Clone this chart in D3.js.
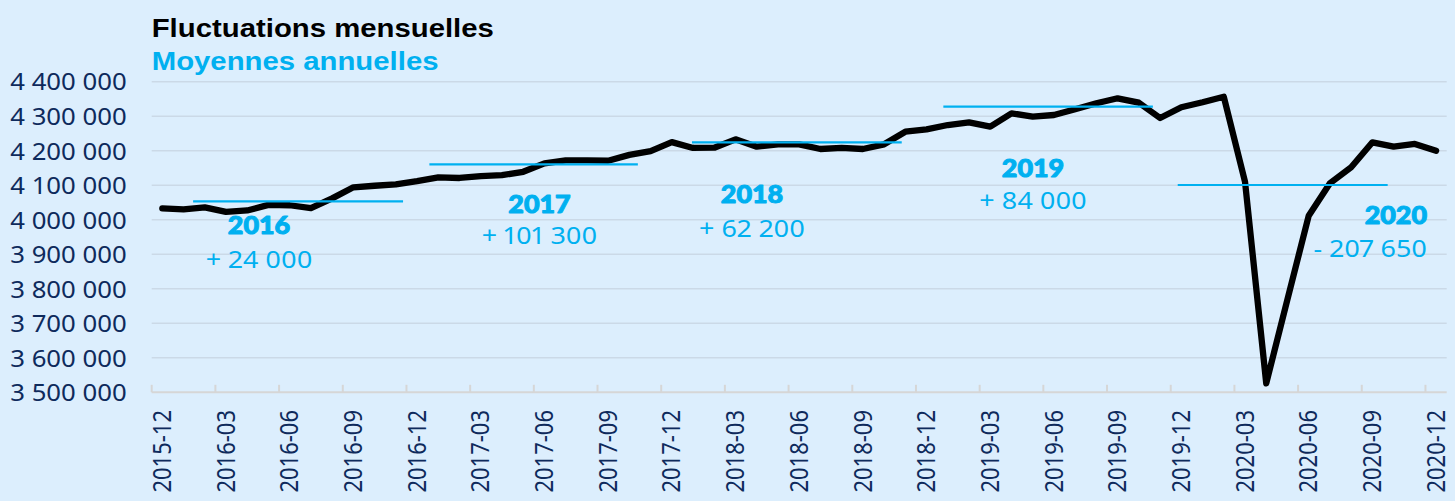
<!DOCTYPE html>
<html>
<head>
<meta charset="utf-8">
<script src="https://cdn.jsdelivr.net/npm/d3@7"></script>
<style>
  html, body { margin: 0; padding: 0; background: #dceefd; }
  svg { display: block; }
</style>
</head>
<body>
<svg id="chart" width="1455" height="501"></svg>
<script>
// ---------- DATA ----------
const months = [
  "2015-12",
  "2016-01","2016-02","2016-03","2016-04","2016-05","2016-06","2016-07","2016-08","2016-09","2016-10","2016-11","2016-12",
  "2017-01","2017-02","2017-03","2017-04","2017-05","2017-06","2017-07","2017-08","2017-09","2017-10","2017-11","2017-12",
  "2018-01","2018-02","2018-03","2018-04","2018-05","2018-06","2018-07","2018-08","2018-09","2018-10","2018-11","2018-12",
  "2019-01","2019-02","2019-03","2019-04","2019-05","2019-06","2019-07","2019-08","2019-09","2019-10","2019-11","2019-12",
  "2020-01","2020-02","2020-03","2020-04","2020-05","2020-06","2020-07","2020-08","2020-09","2020-10","2020-11","2020-12"
];
const monthlyValues = [
  4033000,
  4030000, 4036000, 4023000, 4027000, 4043000, 4042000, 4034000, 4062000, 4094000, 4098500, 4102500, 4112000,
  4123000, 4121000, 4126500, 4129000, 4139000, 4163500, 4172000, 4172000, 4171000, 4188000, 4199000, 4225000,
  4208000, 4208750, 4233000, 4211650, 4218600, 4218600, 4205000, 4208000, 4205000, 4218600, 4255100, 4262000,
  4274500, 4282350, 4269600, 4308400, 4298600, 4303500, 4320000, 4337400, 4351900, 4339150, 4294800, 4325800,
  4340300, 4356500, 4110200, 3526000, 3769750, 4011400, 4105600, 4152000, 4224400, 4211650, 4219500, 4200000
];
const avgYears   = ["2016", "2017", "2018", "2019", "2020"];
const avgValues  = [4053400, 4160700, 4224400, 4327600, 4100700];
const avgStart   = [1.95, 13.08, 25.45, 37.29, 48.33];   // in months from 2015-12
const avgEnd     = [11.84, 22.90, 35.33, 47.16, 58.22];
const avgChanges = ["+ 24 000", "+ 101 300", "+ 62 200", "+ 84 000", "- 207 650"];
const yTicks = [3500000, 3600000, 3700000, 3800000, 3900000, 4000000, 4100000, 4200000, 4300000, 4400000];
const xLabelMonths = months.filter((d, i) => i % 3 === 0);
const titleText = "Fluctuations mensuelles";
const subtitleText = "Moyennes annuelles";

// ---------- LAYOUT ----------
const S = 1.12;               // horizontal stretch of the text
const plotL = 151.7, plotR = 1446.7, plotT = 81.7, plotB = 392.3;
const navy = "#0e2a5c", cyan = "#00b0f0";

const svg = d3.select("#chart");
svg.append("rect").attr("width", 1455).attr("height", 501).attr("fill", "#dceefd");

const x = d3.scaleBand().domain(months).range([plotL, plotR]).paddingInner(0).paddingOuter(0);
const xi = d3.scaleLinear().domain([0, months.length]).range([plotL, plotR]);
const y = d3.scaleLinear().domain([3500000, 4400000]).range([plotB, plotT]);

const loc = d3.formatLocale({decimal: ",", thousands: "\u00a0", grouping: [3], currency: ["", ""]});
const fmt = loc.format(",");

// gridlines
svg.append("g").selectAll("line")
  .data(yTicks.filter(v => v > 3500000))
  .join("line")
  .attr("x1", plotL).attr("x2", plotR)
  .attr("y1", d => y(d)).attr("y2", d => y(d))
  .attr("stroke", "#cbd9e7").attr("stroke-width", 1.6);

// y axis
const yAxis = svg.append("g").attr("transform", `translate(${plotL},0)`)
  .call(d3.axisLeft(y).tickValues(yTicks).tickFormat(fmt).tickSize(0).tickPadding(0));
yAxis.select(".domain").remove();
yAxis.selectAll("text")
  .attr("x", 0).attr("dy", "0.36em")
  .attr("transform", `translate(-25,0) scale(${S},1)`)
  .attr("text-anchor", "end")
  .attr("fill", navy)
  .style("font-family", "'Noto Sans', 'Open Sans', sans-serif")
  .style("font-size", "23px");

// x axis
const xAxis = svg.append("g").attr("transform", `translate(0,${plotB})`)
  .call(d3.axisBottom(x).tickValues(xLabelMonths).tickSize(0).tickPadding(0));
xAxis.select(".domain").remove();
xAxis.selectAll("text")
  .attr("x", 0).attr("y", 0).attr("dy", "0.35em")
  .attr("transform", `translate(0,17.7) scale(${S},1) rotate(-90)`)
  .attr("text-anchor", "end")
  .attr("fill", navy)
  .style("font-family", "'Noto Sans', 'Open Sans', sans-serif")
  .style("font-size", "22px");
svg.append("line")
  .attr("x1", plotL).attr("x2", plotR).attr("y1", plotB).attr("y2", plotB)
  .attr("stroke", "#d6d6d6").attr("stroke-width", 2);
svg.append("g").selectAll("line")
  .data(xLabelMonths)
  .join("line")
  .attr("x1", d => x(d)).attr("x2", d => x(d))
  .attr("y1", plotB).attr("y2", plotB - 7.5)
  .attr("stroke", "#d6d6d6").attr("stroke-width", 2);

// monthly line
const series = months.map((m, i) => ({m, v: monthlyValues[i]}));
svg.append("path")
  .datum(series)
  .attr("fill", "none")
  .attr("stroke", "#000")
  .attr("stroke-width", 6.3)
  .attr("stroke-linejoin", "round")
  .attr("stroke-linecap", "round")
  .attr("d", d3.line().x(d => x(d.m) + x.bandwidth() / 2).y(d => y(d.v)));

// annual averages
svg.append("g").selectAll("line")
  .data(avgYears.map((yr, i) => ({yr, v: avgValues[i], s: avgStart[i], e: avgEnd[i]})))
  .join("line")
  .attr("x1", d => xi(d.s)).attr("x2", d => xi(d.e))
  .attr("y1", d => y(d.v)).attr("y2", d => y(d.v))
  .attr("stroke", cyan).attr("stroke-width", 2.2);

// annotations (layout only)
const annotLayout = [
  {x: 259,  yYear: 234.3, yVal: 267.5, anchor: "middle"},
  {x: 539.5,yYear: 212.7, yVal: 244.3, anchor: "middle"},
  {x: 752,  yYear: 203.3, yVal: 236.7, anchor: "middle"},
  {x: 1033, yYear: 176.7, yVal: 209.3, anchor: "middle"},
  {x: 1427, yYear: 224.3, yVal: 256.7, anchor: "end"}
];
const ann = svg.append("g");
avgYears.forEach((yr, i) => {
  const L = annotLayout[i];
  ann.append("text")
    .attr("transform", `translate(${L.x},${L.yYear}) scale(${S},1)`)
    .attr("text-anchor", L.anchor)
    .attr("fill", cyan)
    .attr("stroke", cyan)
    .attr("stroke-width", 1)
    .attr("stroke-linejoin", "round")
    .style("font-family", "Lato, 'Noto Sans', sans-serif")
    .style("font-weight", 900)
    .style("font-size", "24px")
    .text(yr);
  ann.append("text")
    .attr("transform", `translate(${L.x},${L.yVal}) scale(${S},1)`)
    .attr("text-anchor", L.anchor)
    .attr("fill", cyan)
    .style("font-family", "'Noto Sans', 'Open Sans', sans-serif")
    .style("font-size", "24px")
    .style("font-variant-numeric", "proportional-nums")
    .text(avgChanges[i]);
});

// titles
svg.append("text")
  .attr("transform", `translate(${plotL},36.7) scale(${S},1)`)
  .attr("fill", "#000")
  .style("font-family", "'Liberation Sans', Arial, sans-serif")
  .style("font-weight", "bold")
  .style("font-size", "26.2px")
  .text(titleText);
svg.append("text")
  .attr("transform", `translate(${plotL},70) scale(${S},1)`)
  .attr("fill", cyan)
  .style("font-family", "'Liberation Sans', Arial, sans-serif")
  .style("font-weight", "bold")
  .style("font-size", "26.2px")
  .text(subtitleText);
</script>
</body>
</html>
